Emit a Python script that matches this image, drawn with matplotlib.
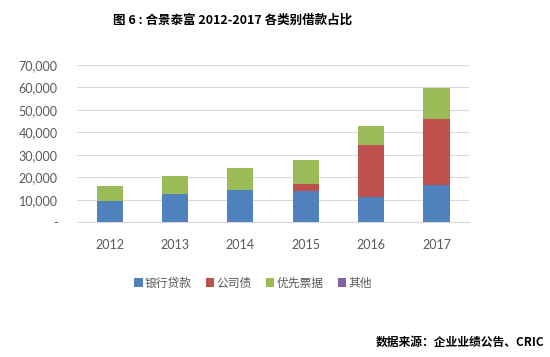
import matplotlib
matplotlib.use("Agg")
import matplotlib.pyplot as plt
import numpy as np

plt.rcParams['font.family'] = ['Lato', 'Noto Sans CJK SC', 'DejaVu Sans']

years = ['2012', '2013', '2014', '2015', '2016', '2017']
bank_loans = [9600, 12700, 14200, 13900, 11100, 16400]
corp_bonds = [0, 0, 0, 3100, 23100, 29400]
senior_notes = [6400, 8000, 10100, 10900, 8600, 13900]
others = [0, 0, 0, 0, 0, 0]
series_names = ['银行贷款', '公司债', '优先票据', '其他']
colors = ['#4F81BD', '#C0504D', '#9BBB59', '#8064A2']
yticks = [0, 10000, 20000, 30000, 40000, 50000, 60000, 70000]

fig = plt.figure(figsize=(5.5, 3.57), dpi=100)
ax = fig.add_axes([0.14, 0.377, 0.713, 0.4415])

x = np.arange(len(years))
bottom = np.zeros(len(years))
handles = []
for vals, name, c in zip([bank_loans, corp_bonds, senior_notes, others], series_names, colors):
    h = ax.bar(x, vals, 0.4, bottom=bottom, color=c, label=name, zorder=3)
    handles.append(h)
    bottom += np.array(vals)

ax.set_xlim(-0.5, 5.5)
ax.set_ylim(0, 70000)
ax.set_yticks(yticks)
ax.set_yticklabels(['-' if v == 0 else f'{v:,}' for v in yticks])
ax.set_xticks(x)
ax.set_xticklabels(years)
ax.grid(axis='y', color='#D9D9D9', linewidth=0.8, zorder=0)
for s in ['top', 'right', 'left']:
    ax.spines[s].set_visible(False)
ax.spines['bottom'].set_color('#D9D9D9')
ax.tick_params(axis='both', length=0, labelsize=9, labelcolor='#595959')
ax.tick_params(axis='y', pad=14)
ax.tick_params(axis='x', pad=12)

fig.text(0.422, 0.944, '图 6 : 合景泰富 2012-2017 各类别借款占比', ha='center', va='center',
         fontsize=9, fontweight='bold', family=['Noto Sans CJK SC', 'DejaVu Sans'])

fig.legend(handles=handles, labels=series_names, loc='center left', bbox_to_anchor=(0.225, 0.207),
           ncol=4, frameon=False, handlelength=0.7, handleheight=0.7,
           handletextpad=0.2, columnspacing=1.2, labelcolor='#595959',
           prop={'family': ['Noto Sans CJK SC'], 'size': 8.5})

fig.text(0.99, 0.042, '数据来源：企业业绩公告、CRIC', ha='right', va='center',
         fontsize=8.5, fontweight='bold', family=['Noto Sans CJK SC', 'DejaVu Sans'])

fig.savefig('out.png', dpi=100)
